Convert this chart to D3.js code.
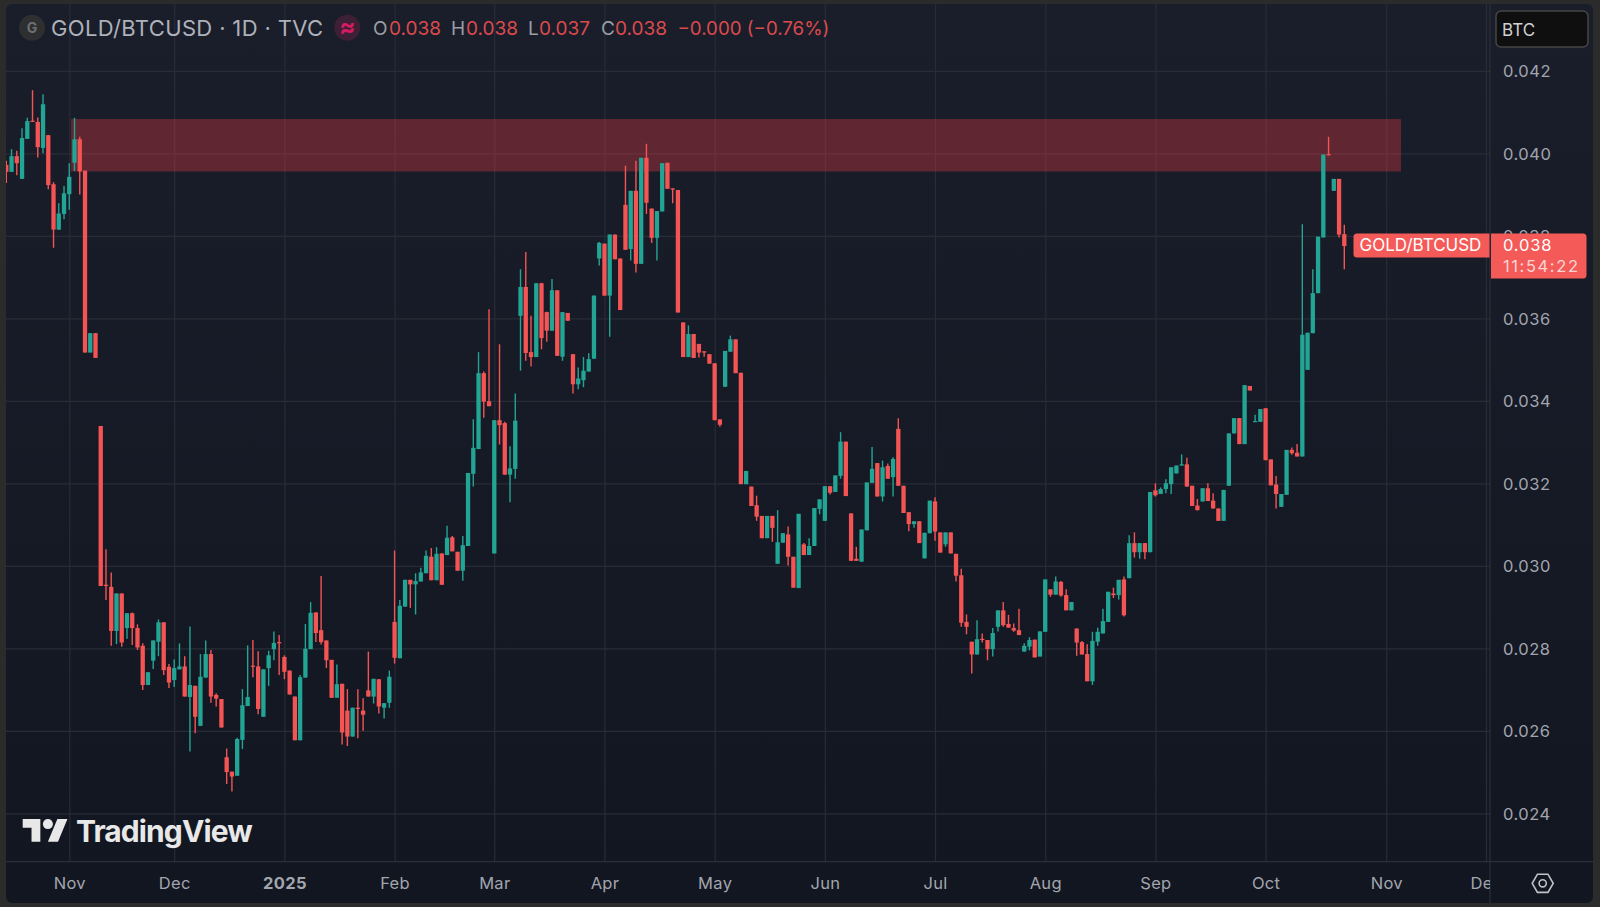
<!DOCTYPE html>
<html lang="en">
  <head>
    <title>GOLD/BTCUSD</title>
    <meta charset="utf-8" />
    <script src="https://d3js.org/d3.v7.min.js"></script>
    <style>
      html, body { margin: 0; padding: 0; background: #2b2b2b; }
      svg { display: block; }
      text { font-family: Inter, "Noto Sans", sans-serif; }
    </style>
  </head>
  <body>
    <svg width="1600" height="907" xmlns="http://www.w3.org/2000/svg" id="target"></svg>
    <script>
      // daily candles
      const opens = [
        0.03972,0.03955,0.03993,0.03938,0.04035,0.04079,0.04076,0.04013,0.04044,0.03925,0.03815,0.03853,0.03901,0.03977,0.04034,0.03958,
        0.03517,0.03564,0.03339,0.02954,0.02949,0.02842,0.02933,0.02849,0.02885,0.02849,0.02806,0.02711,0.02770,0.02816,0.02863,0.02755,
        0.02723,0.02749,0.02756,0.02682,0.02709,0.02612,0.02729,0.02786,0.02687,0.02677,0.02536,0.02501,0.02491,0.02578,0.02660,0.02758,
        0.02756,0.02634,0.02752,0.02798,0.02815,0.02779,0.02746,0.02683,0.02577,0.02729,0.02798,0.02887,0.02844,0.02819,0.02772,0.02680,
        0.02714,0.02649,0.02586,0.02656,0.02649,0.02698,0.02683,0.02725,0.02656,0.02668,0.02864,0.02776,0.02901,0.02966,0.02955,0.02962,
        0.02982,0.03022,0.02965,0.03030,0.03026,0.03069,0.03034,0.02988,0.03048,0.03223,0.03283,0.03467,0.03399,0.03030,0.03353,0.03346,
        0.03221,0.03235,0.03606,0.03676,0.03518,0.03506,0.03685,0.03615,0.03570,0.03668,0.03507,0.03613,0.03513,0.03440,0.03450,0.03471,
        0.03502,0.03745,0.03781,0.03655,0.03803,0.03745,0.03875,0.03768,0.03909,0.03732,0.03989,0.03866,0.03795,0.03859,0.03977,0.03915,
        0.03911,0.03590,0.03506,0.03562,0.03538,0.03520,0.03513,0.03491,0.03355,0.03434,0.03519,0.03549,0.03468,0.03198,0.03192,0.03147,
        0.03121,0.03067,0.03121,0.03005,0.03056,0.03076,0.03022,0.02946,0.03052,0.03026,0.03048,0.03138,0.03109,0.03193,0.03179,0.03218,
        0.03301,0.03127,0.03017,0.03010,0.03086,0.03201,0.03249,0.03168,0.03242,0.03215,0.03332,0.03194,0.03130,0.03101,0.03108,0.03018,
        0.03079,0.03156,0.03081,0.03052,0.03081,0.03029,0.02977,0.02864,0.02816,0.02785,0.02823,0.02820,0.02798,0.02852,0.02892,0.02859,
        0.02849,0.02844,0.02792,0.02804,0.02821,0.02780,0.02840,0.02943,0.02930,0.02961,0.02929,0.02892,0.02848,0.02815,0.02786,0.02720,
        0.02816,0.02836,0.02864,0.02933,0.02929,0.02967,0.02970,0.03055,0.03033,0.03055,0.03033,0.03183,0.03174,0.03186,0.03198,0.03224,
        0.03243,0.03246,0.03194,0.03146,0.03156,0.03188,0.03158,0.03139,0.03109,0.03194,0.03321,0.03358,0.03295,0.03436,0.03349,0.03349,
        0.03382,0.03258,0.03197,0.03143,0.03172,0.03281,0.03274,0.03265,0.03475,0.03564,0.03661,0.03796,0.03998,0.03909,0.03938,0.03804
      ];
      const highs = [
        0.03982,0.04010,0.04006,0.04061,0.04086,0.04153,0.04087,0.04143,0.04044,0.03930,0.03879,0.03921,0.03976,0.04086,0.04040,0.03958,
        0.03564,0.03564,0.03339,0.03040,0.02984,0.02933,0.02933,0.02885,0.02887,0.02858,0.02812,0.02742,0.02819,0.02870,0.02863,0.02762,
        0.02773,0.02812,0.02781,0.02853,0.02709,0.02786,0.02819,0.02796,0.02691,0.02677,0.02557,0.02501,0.02583,0.02701,0.02807,0.02820,
        0.02793,0.02749,0.02794,0.02841,0.02832,0.02783,0.02746,0.02683,0.02735,0.02859,0.02912,0.02887,0.02975,0.02819,0.02772,0.02761,
        0.02714,0.02701,0.02656,0.02701,0.02679,0.02792,0.02726,0.02725,0.02667,0.02746,0.03037,0.02917,0.02966,0.02966,0.02982,0.02995,
        0.03037,0.03043,0.03045,0.03030,0.03097,0.03072,0.03034,0.03072,0.03225,0.03355,0.03518,0.03471,0.03622,0.03353,0.03537,0.03349,
        0.03290,0.03418,0.03719,0.03761,0.03606,0.03685,0.03686,0.03616,0.03695,0.03668,0.03615,0.03613,0.03513,0.03481,0.03506,0.03515,
        0.03655,0.03785,0.03781,0.03803,0.03803,0.03745,0.03970,0.03909,0.03982,0.03989,0.04023,0.03866,0.03860,0.03976,0.03977,0.03915,
        0.03911,0.03590,0.03583,0.03562,0.03538,0.03520,0.03513,0.03491,0.03355,0.03521,0.03558,0.03549,0.03468,0.03230,0.03192,0.03170,
        0.03121,0.03121,0.03121,0.03135,0.03079,0.03095,0.03022,0.03126,0.03055,0.03067,0.03140,0.03161,0.03193,0.03193,0.03219,0.03324,
        0.03301,0.03127,0.03046,0.03088,0.03202,0.03288,0.03249,0.03255,0.03248,0.03263,0.03358,0.03194,0.03130,0.03108,0.03108,0.03080,
        0.03158,0.03166,0.03081,0.03081,0.03081,0.03029,0.02993,0.02882,0.02816,0.02868,0.02836,0.02820,0.02849,0.02892,0.02912,0.02881,
        0.02860,0.02896,0.02812,0.02827,0.02821,0.02841,0.02967,0.02943,0.02974,0.02963,0.02943,0.02912,0.02848,0.02818,0.02810,0.02840,
        0.02850,0.02896,0.02937,0.02947,0.02966,0.02974,0.03074,0.03081,0.03055,0.03055,0.03179,0.03200,0.03190,0.03210,0.03239,0.03243,
        0.03270,0.03262,0.03194,0.03162,0.03188,0.03200,0.03176,0.03139,0.03184,0.03321,0.03358,0.03358,0.03438,0.03436,0.03366,0.03380,
        0.03382,0.03258,0.03218,0.03174,0.03281,0.03287,0.03295,0.03828,0.03565,0.03719,0.03798,0.03997,0.04040,0.03938,0.03938,0.03827
      ];
      const lows = [
        0.03928,0.03955,0.03947,0.03938,0.04035,0.04077,0.03990,0.04000,0.03913,0.03771,0.03814,0.03840,0.03863,0.03957,0.03900,0.03517,
        0.03517,0.03504,0.02951,0.02917,0.02806,0.02810,0.02804,0.02823,0.02808,0.02796,0.02699,0.02711,0.02750,0.02781,0.02735,0.02704,
        0.02706,0.02749,0.02683,0.02550,0.02594,0.02612,0.02729,0.02668,0.02659,0.02608,0.02471,0.02453,0.02491,0.02556,0.02660,0.02730,
        0.02640,0.02634,0.02709,0.02771,0.02735,0.02725,0.02688,0.02577,0.02577,0.02729,0.02798,0.02815,0.02809,0.02752,0.02680,0.02680,
        0.02567,0.02563,0.02586,0.02582,0.02600,0.02683,0.02666,0.02642,0.02630,0.02656,0.02763,0.02776,0.02901,0.02898,0.02882,0.02962,
        0.02982,0.02965,0.02965,0.02954,0.03026,0.03035,0.02988,0.02964,0.03048,0.03192,0.03283,0.03359,0.03387,0.03030,0.03294,0.03221,
        0.03154,0.03211,0.03473,0.03497,0.03483,0.03506,0.03525,0.03543,0.03570,0.03509,0.03497,0.03594,0.03418,0.03428,0.03433,0.03471,
        0.03502,0.03728,0.03655,0.03555,0.03743,0.03620,0.03766,0.03740,0.03711,0.03732,0.03853,0.03783,0.03740,0.03859,0.03914,0.03879,
        0.03614,0.03506,0.03506,0.03504,0.03505,0.03507,0.03490,0.03353,0.03337,0.03434,0.03519,0.03467,0.03198,0.03198,0.03145,0.03109,
        0.03067,0.03067,0.03058,0.03005,0.03056,0.03001,0.02947,0.02946,0.03026,0.03026,0.03048,0.03125,0.03109,0.03173,0.03179,0.03211,
        0.03169,0.03012,0.03012,0.03010,0.03086,0.03201,0.03168,0.03156,0.03211,0.03168,0.03194,0.03128,0.03084,0.03092,0.03055,0.03018,
        0.03079,0.03061,0.03032,0.03046,0.03030,0.02962,0.02852,0.02834,0.02739,0.02785,0.02814,0.02771,0.02780,0.02841,0.02852,0.02850,
        0.02840,0.02832,0.02792,0.02795,0.02778,0.02780,0.02840,0.02925,0.02930,0.02925,0.02892,0.02892,0.02782,0.02785,0.02720,0.02711,
        0.02806,0.02836,0.02864,0.02922,0.02918,0.02877,0.02970,0.03020,0.03017,0.03016,0.03033,0.03168,0.03174,0.03176,0.03174,0.03224,
        0.03243,0.03192,0.03145,0.03134,0.03156,0.03157,0.03139,0.03109,0.03109,0.03194,0.03321,0.03295,0.03295,0.03425,0.03349,0.03349,
        0.03256,0.03195,0.03139,0.03143,0.03172,0.03269,0.03265,0.03265,0.03475,0.03564,0.03661,0.03796,0.03995,0.03909,0.03796,0.03719
      ];
      const closes = [
        0.03955,0.03993,0.03976,0.04037,0.04078,0.04077,0.04015,0.04119,0.03923,0.03815,0.03854,0.03903,0.03943,0.04034,0.03956,0.03517,
        0.03564,0.03504,0.02951,0.02951,0.02842,0.02933,0.02814,0.02885,0.02849,0.02802,0.02711,0.02742,0.02819,0.02863,0.02747,0.02717,
        0.02752,0.02756,0.02683,0.02711,0.02634,0.02731,0.02786,0.02683,0.02678,0.02608,0.02500,0.02489,0.02580,0.02662,0.02682,0.02756,
        0.02653,0.02749,0.02783,0.02813,0.02812,0.02743,0.02688,0.02577,0.02730,0.02799,0.02886,0.02837,0.02815,0.02771,0.02680,0.02713,
        0.02596,0.02586,0.02656,0.02653,0.02639,0.02683,0.02726,0.02659,0.02667,0.02731,0.02777,0.02903,0.02966,0.02955,0.02963,0.02984,
        0.03024,0.02965,0.03029,0.02954,0.03068,0.03035,0.02988,0.03050,0.03225,0.03286,0.03467,0.03398,0.03387,0.03353,0.03341,0.03221,
        0.03236,0.03352,0.03676,0.03516,0.03506,0.03685,0.03552,0.03570,0.03668,0.03509,0.03615,0.03594,0.03440,0.03454,0.03473,0.03501,
        0.03655,0.03783,0.03655,0.03803,0.03743,0.03620,0.03766,0.03909,0.03732,0.03989,0.03880,0.03795,0.03860,0.03976,0.03914,0.03912,
        0.03614,0.03506,0.03562,0.03504,0.03517,0.03517,0.03490,0.03353,0.03342,0.03521,0.03549,0.03467,0.03198,0.03230,0.03145,0.03119,
        0.03067,0.03121,0.03092,0.03057,0.03079,0.03022,0.02947,0.03126,0.03026,0.03048,0.03140,0.03161,0.03193,0.03177,0.03219,0.03301,
        0.03169,0.03012,0.03012,0.03088,0.03202,0.03235,0.03168,0.03239,0.03211,0.03259,0.03194,0.03128,0.03101,0.03108,0.03055,0.03080,
        0.03158,0.03083,0.03032,0.03081,0.03030,0.02976,0.02862,0.02852,0.02785,0.02822,0.02820,0.02798,0.02837,0.02892,0.02856,0.02850,
        0.02843,0.02832,0.02806,0.02820,0.02778,0.02841,0.02967,0.02930,0.02962,0.02928,0.02892,0.02912,0.02814,0.02785,0.02720,0.02818,
        0.02840,0.02866,0.02937,0.02929,0.02966,0.02880,0.03055,0.03033,0.03055,0.03033,0.03179,0.03171,0.03186,0.03200,0.03239,0.03243,
        0.03246,0.03192,0.03145,0.03135,0.03188,0.03157,0.03139,0.03109,0.03184,0.03321,0.03358,0.03295,0.03438,0.03425,0.03351,0.03380,
        0.03256,0.03195,0.03174,0.03174,0.03281,0.03273,0.03265,0.03560,0.03565,0.03661,0.03798,0.03997,0.03995,0.03938,0.03803,0.03775
      ];

      // axes
      const priceTicks = [0.024, 0.026, 0.028, 0.03, 0.032, 0.034, 0.036, 0.038, 0.04, 0.042];
      const monthLabels = ["Nov", "Dec", "2025", "Feb", "Mar", "Apr", "May", "Jun", "Jul", "Aug", "Sep", "Oct", "Nov", "Dec"];
      const monthBars = [12, 32, 53, 74, 93, 114, 135, 156, 177, 198, 219, 240, 263, 282];

      // resistance zone: bar from/to and price bottom/top
      const zoneBars = [12.33, 265.8];
      const zonePrices = [0.03956, 0.04083];

      // header
      const ohlcNames = ["O", "H", "L", "C"];
      const ohlcValues = ["0.038", "0.038", "0.037", "0.038"];
      const ohlcNameX = [373, 451, 528, 601];
      const ohlcValueX = [389, 466, 539, 615];

      const pane = {left: 6, top: 4, right: 1490, bottom: 861.7, frameRight: 1593, frameBottom: 903};
      const colors = {
        up: "#22a594",
        down: "#f45454",
        grid: "#282c37",
        line: "#2b2f3a",
        axisText: "#a2a5ae",
        zone: "rgba(242,60,70,0.33)",
        label: "#f45a58"
      };
      const candle_def = {body: 4.3, wick: 1.4};

      const x = d3.scaleLinear().domain([0, 255]).range([6.3, 1344.3]);
      const y = d3.scaleLinear().domain([0.024, 0.042]).range([813.3, 70.8]);

      const svg = d3.select("#target");
      const defs = svg.append("defs");

      const grad = defs.append("linearGradient")
        .attr("id", "bg").attr("x1", 0).attr("y1", 0).attr("x2", 0).attr("y2", 1);
      grad.append("stop").attr("offset", "0%").attr("stop-color", "#1a1e2a");
      grad.append("stop").attr("offset", "100%").attr("stop-color", "#121621");

      defs.append("clipPath").attr("id", "paneClip")
        .append("rect")
        .attr("x", pane.left)
        .attr("y", pane.top)
        .attr("width", pane.right - pane.left)
        .attr("height", pane.frameBottom - pane.top);

      // frame
      svg.append("rect").attr("width", 1600).attr("height", 907).attr("fill", "#2b2b2b");
      svg.append("rect")
        .attr("x", pane.left)
        .attr("y", pane.top)
        .attr("width", pane.frameRight - pane.left)
        .attr("height", pane.frameBottom - pane.top)
        .attr("rx", 6)
        .attr("fill", "url(#bg)");

      // grid
      const gridX = svg.append("g")
        .attr("transform", `translate(0,${pane.bottom})`)
        .call(d3.axisBottom(x).tickValues(monthBars).tickSize(-(pane.bottom - pane.top)).tickFormat(""));
      const gridY = svg.append("g")
        .attr("transform", `translate(${pane.right},0)`)
        .call(d3.axisLeft(y).tickValues(priceTicks).tickSize(pane.right - pane.left).tickFormat(""));
      [gridX, gridY].forEach(g => {
        g.select(".domain").remove();
        g.selectAll("line").attr("stroke", colors.grid).attr("stroke-width", 1.2);
      });

      // zone
      svg.append("rect")
        .attr("x", x(zoneBars[0]))
        .attr("y", y(zonePrices[1]))
        .attr("width", x(zoneBars[1]) - x(zoneBars[0]))
        .attr("height", y(zonePrices[0]) - y(zonePrices[1]))
        .attr("fill", colors.zone);

      // candles
      const candles = d3.range(opens.length).map(i => ({
        i: i, open: opens[i], high: highs[i], low: lows[i], close: closes[i]
      }));
      const barColor = d => d.close < d.open ? colors.down : colors.up;
      const plot = svg.append("g").attr("clip-path", "url(#paneClip)");
      plot.selectAll("line.wick")
        .data(candles)
        .enter()
        .append("line")
        .attr("class", "wick")
        .attr("x1", d => x(d.i))
        .attr("x2", d => x(d.i))
        .attr("y1", d => y(d.high))
        .attr("y2", d => y(d.low))
        .attr("stroke", barColor)
        .attr("stroke-width", candle_def.wick);
      plot.selectAll("rect.body")
        .data(candles)
        .enter()
        .append("rect")
        .attr("class", "body")
        .attr("x", d => x(d.i) - candle_def.body / 2)
        .attr("y", d => y(Math.max(d.open, d.close)))
        .attr("width", candle_def.body)
        .attr("height", d => Math.max(1.2, Math.abs(y(d.open) - y(d.close))))
        .attr("fill", barColor);

      // separators
      svg.append("line")
        .attr("x1", pane.left).attr("x2", pane.frameRight)
        .attr("y1", pane.bottom).attr("y2", pane.bottom)
        .attr("stroke", colors.line).attr("stroke-width", 1.2);
      svg.append("line")
        .attr("x1", pane.right).attr("x2", pane.right)
        .attr("y1", pane.top).attr("y2", pane.frameBottom)
        .attr("stroke", colors.line).attr("stroke-width", 1.2);

      // price axis
      const priceAxis = svg.append("g")
        .attr("transform", `translate(${pane.right},0.6)`)
        .call(d3.axisRight(y).tickValues(priceTicks).tickSize(0).tickPadding(13).tickFormat(d3.format(".3f")));
      priceAxis.select(".domain").remove();
      priceAxis.selectAll("text")
        .attr("fill", colors.axisText)
        .style("font-family", "Inter")
        .style("font-size", "16.5px")
        .style("letter-spacing", "0.5px");

      // time axis
      const timeAxis = svg.append("g")
        .attr("clip-path", "url(#paneClip)")
        .append("g")
        .attr("transform", `translate(0,${pane.bottom})`)
        .call(d3.axisBottom(x).tickValues(monthBars).tickSize(0).tickPadding(16).tickFormat((d, i) => monthLabels[i]));
      timeAxis.select(".domain").remove();
      timeAxis.selectAll("text")
        .attr("fill", colors.axisText)
        .style("font-family", "Inter")
        .style("font-size", "16.5px")
        .style("letter-spacing", "0.3px")
        .style("font-weight", (d, i) => monthLabels[i] === "2025" ? 700 : 400);

      // last price labels
      const labels = svg.append("g");
      labels.append("path")
        .attr("d", "M1491,233.5 H1583 Q1586.5,233.5 1586.5,237 V275 Q1586.5,278.5 1583,278.5 H1491 Z")
        .attr("fill", colors.label);
      labels.append("path")
        .attr("d", "M1489.5,233.5 H1357 Q1353.5,233.5 1353.5,237 V254 Q1353.5,257.5 1357,257.5 H1489.5 Z")
        .attr("fill", colors.label);
      labels.append("text").attr("x", 1359.5).attr("y", 250.5).text("GOLD/BTCUSD")
        .attr("fill", "#ffffff").style("font-size", "17px");
      labels.append("text").attr("x", 1503).attr("y", 250.5).text("0.038")
        .attr("fill", "#ffffff").style("font-size", "16.5px").style("letter-spacing", "0.8px");
      labels.append("text").attr("x", 1503).attr("y", 271.5).text("11:54:22")
        .attr("fill", "#fbd5d3").style("font-size", "16.5px").style("letter-spacing", "1.6px");

      // header
      const head = svg.append("g");
      head.append("circle").attr("cx", 32).attr("cy", 27.7).attr("r", 13).attr("fill", "#2e2f31");
      head.append("text").attr("x", 32).attr("y", 33).attr("text-anchor", "middle").text("G")
        .attr("fill", "#6e6f72").style("font-size", "14px").style("font-weight", 700);
      head.append("text").attr("x", 51).attr("y", 36).text("GOLD/BTCUSD · 1D · TVC")
        .attr("fill", "#aeb1ba").style("font-size", "22px").style("letter-spacing", "0.35px");
      head.append("circle").attr("cx", 347.3).attr("cy", 27.7).attr("r", 13).attr("fill", "#3d1f36");
      head.append("text").attr("x", 347.3).attr("y", 35).attr("text-anchor", "middle").text("≈")
        .attr("fill", "#d81b60").style("font-size", "24px").style("font-weight", 700);
      head.selectAll("text.oname")
        .data(ohlcNames)
        .enter()
        .append("text")
        .attr("class", "oname")
        .attr("x", (d, i) => ohlcNameX[i])
        .attr("y", 35)
        .text(d => d)
        .attr("fill", "#9a9da6")
        .style("font-size", "19px");
      head.selectAll("text.oval")
        .data(ohlcValues)
        .enter()
        .append("text")
        .attr("class", "oval")
        .attr("x", (d, i) => ohlcValueX[i])
        .attr("y", 35)
        .text(d => d)
        .attr("fill", "#dd4a4c")
        .style("font-size", "19px");
      head.append("text").attr("x", 677.5).attr("y", 35).text("−0.000 (−0.76%)")
        .attr("fill", "#dd4a4c").style("font-size", "18.7px");

      // currency box
      svg.append("rect")
        .attr("x", 1496).attr("y", 11).attr("width", 92).attr("height", 36).attr("rx", 5)
        .attr("fill", "#0f0f0f").attr("stroke", "#454545").attr("stroke-width", 1.5);
      svg.append("text").attr("x", 1502).attr("y", 35.5).text("BTC")
        .attr("fill", "#cfd1d6").style("font-size", "17px");

      // settings icon
      const gear = svg.append("g").attr("transform", "translate(1542.7,883.3)");
      gear.append("polygon")
        .attr("points", d3.range(6).map(k => {
          const a = k * Math.PI / 3;
          return [10.5 * Math.cos(a), 10.5 * Math.sin(a)].join(",");
        }).join(" "))
        .attr("fill", "none").attr("stroke", "#c0c3ca").attr("stroke-width", 1.6);
      gear.append("circle").attr("r", 3.6).attr("fill", "none").attr("stroke", "#c0c3ca").attr("stroke-width", 1.6);

      // watermark
      const mark = svg.append("g").attr("transform", "translate(22.7,814) scale(1.26)");
      mark.append("path").attr("d", "M14 22H7V11H0V4h14v18zM28 22h-8l7.5-18h8L28 22z").attr("fill", "#e8e8e8");
      mark.append("circle").attr("cx", 20).attr("cy", 8).attr("r", 4).attr("fill", "#e8e8e8");
      svg.append("text").attr("x", 76).attr("y", 842).text("TradingView")
        .attr("fill", "#e8e8e8")
        .style("font-size", "30px")
        .style("font-weight", 700)
        .style("letter-spacing", "-0.9px");
    </script>
  </body>
</html>
